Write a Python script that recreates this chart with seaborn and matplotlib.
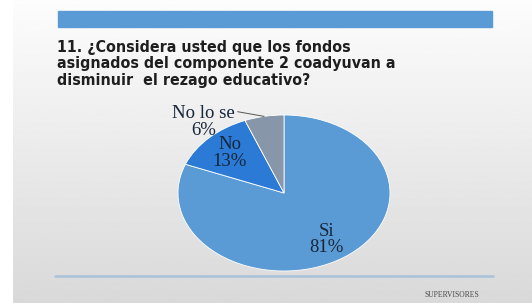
import numpy as np
import matplotlib
matplotlib.use("Agg")
import matplotlib.pyplot as plt
import seaborn as sns

# survey answers (SUPERVISORES)
categories = ["Si", "No", "No lo se"]
percentages = [81, 13, 6]
slice_colors = ["#5b9bd5", "#2b7bd6", "#8896aa"]

title = ("11. ¿Considera usted que los fondos\n"
         "asignados del componente 2 coadyuvan a\n"
         "disminuir  el rezago educativo?")
footer = "SUPERVISORES"

sns.set_theme(style="white")
plt.rcParams['font.family'] = ['Liberation Serif', 'DejaVu Serif']

W, H = 532, 303
fig = plt.figure(figsize=(W / 100, H / 100), dpi=100)

# slide background (light vertical gradient, white margin on the left)
bg = fig.add_axes([0, 0, 1, 1])
grad = np.linspace(0.99, 0.85, 200).reshape(-1, 1)
bg.imshow(np.repeat(grad, 10, axis=1), cmap="gray", vmin=0, vmax=1,
          aspect="auto", extent=[13, W, H, 0])
bg.set_xlim(0, W)
bg.set_ylim(H, 0)
bg.axis("off")

# top blue band
bg.add_patch(plt.Rectangle((58, 11), 434, 16, color="#5b9bd5", zorder=2))
# bottom rule
bg.plot([55, 493], [276, 276], color="#a8c2da", lw=1.8, zorder=2)

bg.text(57, 40, title, ha="left", va="top", fontsize=11.4, fontweight="heavy",
        family=['DejaVu Sans'], fontstretch="condensed", color="#1e1e1e",
        linespacing=1.12, zorder=3)
bg.text(452, 295, footer, ha="center", va="center", fontsize=5.5,
        color="#4a4a4a", zorder=3)

# pie (elliptical, as in the slide)
cx, cy, rx, ry = 284, 193, 106, 78
ax = fig.add_axes([(cx - rx) / W, (H - cy - ry) / H, 2 * rx / W, 2 * ry / H])
wedges, _ = ax.pie(percentages, colors=slice_colors, startangle=90,
                   counterclock=False, radius=1,
                   wedgeprops=dict(edgecolor="white", linewidth=0.6))
ax.set_xlim(-1, 1)
ax.set_ylim(-1, 1)
ax.set_aspect("auto")
ax.axis("off")

for w, cat, pct in zip(wedges, categories, percentages):
    mid = np.deg2rad((w.theta1 + w.theta2) / 2)
    label = f"{cat}\n{pct}%"
    if pct > 10:
        r = 0.72
        ax.text(r * np.cos(mid), r * np.sin(mid), label, ha="center",
                va="center", fontsize=13.5, color="#17263a", linespacing=0.98)
    else:
        ex, ey = np.cos(mid), np.sin(mid)
        tx, ty = ex - 0.25, ey + 0.06
        ax.plot([ex, tx], [ey, ty], color="#555555", lw=0.7, clip_on=False)
        ax.text(tx - 0.32, ty - 0.13, label, ha="center", va="center",
                fontsize=13.5, color="#17263a", linespacing=0.95, clip_on=False)

fig.savefig("out.png", dpi=100)
